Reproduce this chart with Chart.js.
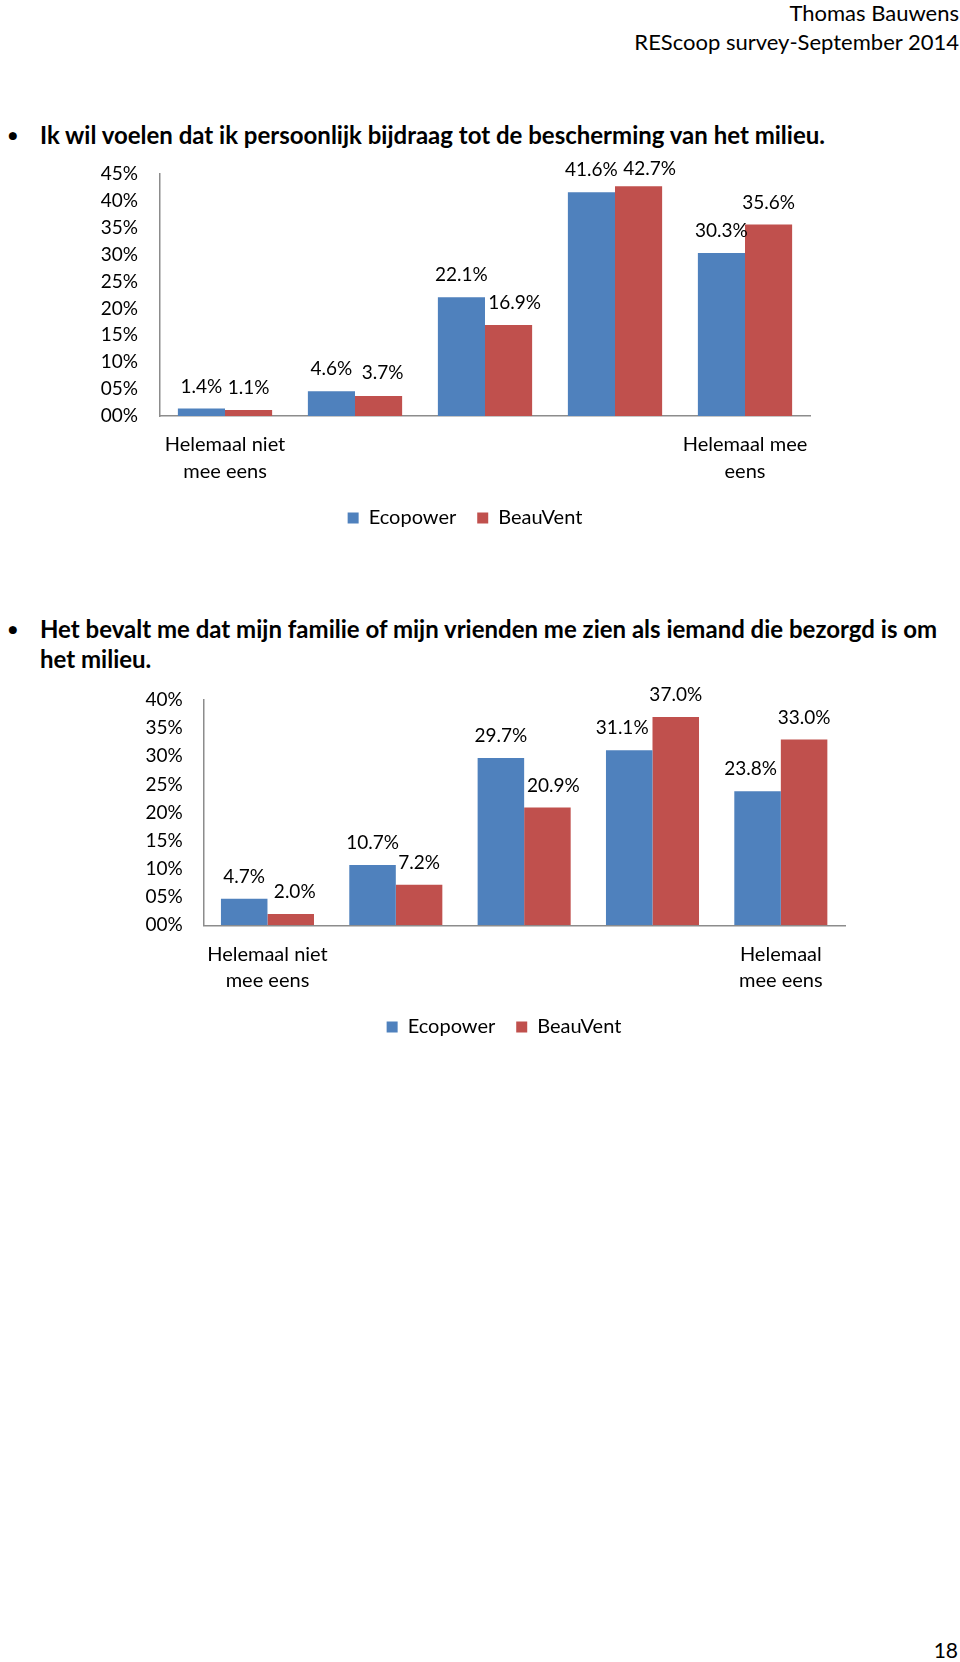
<!DOCTYPE html>
<html>
<head>
<meta charset="utf-8">
<script src="https://cdn.jsdelivr.net/npm/chart.js@4.4.1/dist/chart.umd.min.js"></script>
<style>
  html, body { margin:0; padding:0; background:#fff; }
  body { width:960px; height:1662px; position:relative; overflow:hidden; font-family: Lato, "Noto Sans", sans-serif; color:#000; }
  .t { position:absolute; white-space:nowrap; line-height:30px; }
  .hdr { right:1px; font-size:22px; }
  .bul { font-weight:bold; font-size:24px; left:40px; }
  .dot { position:absolute; left:8px; font-size:16px; font-weight:bold; line-height:30px; }
  .cv { position:absolute; left:0; width:960px; }
</style>
</head>
<body>
<div class="t hdr" style="top:-2px;">Thomas Bauwens</div>
<div class="t hdr" style="top:27px;">REScoop survey-September 2014</div>

<div class="dot" style="top:120px;">●</div>
<div class="t bul" style="top:120px;">Ik wil voelen dat ik persoonlijk bijdraag tot de bescherming van het milieu.</div>

<div class="dot" style="top:614px;">●</div>
<div class="t bul" style="top:614px;">Het bevalt me dat mijn familie of mijn vrienden me zien als iemand die bezorgd is om</div>
<div class="t bul" style="top:644px;">het milieu.</div>

<div class="cv" style="top:140px;height:398px;"><canvas id="c1"></canvas></div>
<div class="cv" style="top:666px;height:381px;"><canvas id="c2"></canvas></div>

<div class="t" style="right:2px;top:1635px;font-size:21px;">18</div>

<script>
// ---- data ----
const categories1 = [["Helemaal niet","mee eens"], "", "", "", ["Helemaal mee","eens"]];
const ecopower1 = [1.4, 4.6, 22.1, 41.6, 30.3];
const beauvent1 = [1.1, 3.7, 16.9, 42.7, 35.6];

const categories2 = [["Helemaal niet","mee eens"], "", "", "", ["Helemaal","mee eens"]];
const ecopower2 = [4.7, 10.7, 29.7, 31.1, 23.8];
const beauvent2 = [2.0, 7.2, 20.9, 37.0, 33.0];

const seriesNames = ["Ecopower", "BeauVent"];
const yMax1 = 45, yMax2 = 40, yStep = 5;

// ---- styles ----
const BLUE = "#4F81BD", RED = "#C0504D", AXIS = "#8C8C8C";
const FONT = "Lato, 'Noto Sans', sans-serif";

// label nudges (px) [dx, dy] for each dataset, style only
const nudge1 = [[[0,0],[0,0],[0,0],[0,0],[0,0]], [[0,0],[4,-1],[6,0],[11,5],[0,0]]];
const nudge2 = [[[0,0],[0,0],[0,0],[-7,0],[-7,0]], [[4,0],[0,0],[6,0],[0,0],[0,0]]];

function makeLabelPlugin(nudges) {
  return {
    id: 'valueLabels',
    afterDatasetsDraw(chart) {
      const ctx = chart.ctx;
      ctx.save();
      ctx.font = "19px " + FONT;
      ctx.fillStyle = "#000";
      ctx.textAlign = "center";
      ctx.textBaseline = "middle";
      chart.data.datasets.forEach((ds, di) => {
        const meta = chart.getDatasetMeta(di);
        meta.data.forEach((bar, i) => {
          const n = nudges[di][i];
          ctx.fillText(ds.data[i].toFixed(1) + "%", bar.x + n[0], bar.y - 22 + n[1]);
        });
      });
      ctx.restore();
    }
  };
}

function makeLegendShift(centerX) {
  return {
    id: 'legendShift',
    afterLayout(chart) {
      const lg = chart.legend;
      if (!lg) return;
      const dx = centerX - (lg.left + lg.right) / 2;
      lg.left += dx; lg.right += dx;
    }
  };
}

function makeChart(id, cats, a, b, yMax, pad, yAxisW, tickPad, xH, nudges, legendCX) {
  return new Chart(document.getElementById(id), {
    type: 'bar',
    data: {
      labels: cats,
      datasets: [
        { label: seriesNames[0], data: a, backgroundColor: BLUE, borderWidth: 0 },
        { label: seriesNames[1], data: b, backgroundColor: RED, borderWidth: 0 }
      ]
    },
    options: {
      responsive: true,
      maintainAspectRatio: false,
      animation: false,
      layout: { padding: pad },
      plugins: {
        tooltip: { enabled: false },
        legend: {
          position: 'bottom',
          labels: {
            boxWidth: 11, boxHeight: 11, padding: 21,
            color: "#000",
            font: { family: FONT, size: 20 }
          }
        }
      },
      categoryPercentage: 0.725,
      barPercentage: 1.0,
      scales: {
        x: {
          grid: { display: false, drawTicks: false },
          border: { display: true, color: AXIS, width: 1.5 },
          ticks: {
            autoSkip: false, maxRotation: 0, padding: 15.5,
            color: "#000",
            font: { family: FONT, size: 20, lineHeight: 1.33 }
          },
          afterFit(s) { s.height = xH; }
        },
        y: {
          min: 0, max: yMax,
          grid: { display: false, drawTicks: false },
          border: { display: true, color: AXIS, width: 1.5 },
          ticks: {
            stepSize: yStep, padding: tickPad, autoSkip: false,
            color: "#000",
            font: { family: FONT, size: 19 },
            callback: v => (v < 10 ? "0" : "") + v + "%"
          },
          afterFit(s) { s.width = yAxisW; }
        }
      }
    },
    plugins: [makeLabelPlugin(nudges), makeLegendShift(legendCX)]
  });
}

makeChart('c1', categories1, ecopower1, beauvent1, yMax1,
  { left: 0, right: 150, top: 34, bottom: 0 }, 160, 22, 71, nudge1, 465);
makeChart('c2', categories2, ecopower2, beauvent2, yMax2,
  { left: 0, right: 115, top: 34, bottom: 0 }, 203.3, 20.6, 70.7, nudge2, 504);
</script>
</body>
</html>
